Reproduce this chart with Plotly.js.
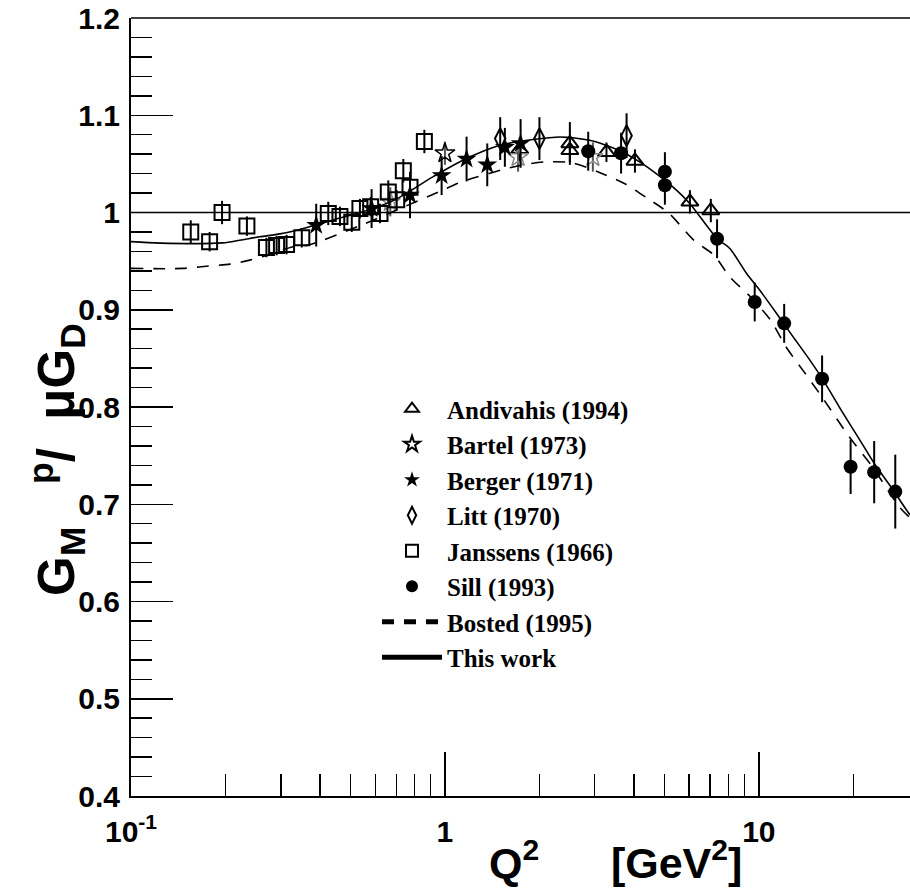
<!DOCTYPE html>
<html>
<head>
<meta charset="utf-8">
<script src="https://cdn.plot.ly/plotly-3.0.1.min.js"></script>
<style>html,body{margin:0;padding:0;background:#fff;}#chart{width:910px;height:889px;}</style>
</head>
<body>
<div id="chart"></div>
<script>
// ---- Data ----
const andivahisQ2 = [1.73, 2.5, 2.5, 3.27, 4.03, 6.03, 7.03];
const andivahisR  = [1.065, 1.071, 1.064, 1.062, 1.053, 1.011, 1.002];
const andivahisE  = [0.012, 0.022, 0.012, 0.010, 0.012, 0.012, 0.012];

const bartelQ2 = [1.0, 0.67, 1.71, 2.96];
const bartelR  = [1.061, 1.011, 1.057, 1.057];
const bartelE  = [0.012, 0.015, 0.015, 0.015];

const bergerQ2 = [0.389, 0.584, 0.774, 0.976, 1.172, 1.364, 1.552, 1.742];
const bergerR  = [0.987, 1.004, 1.018, 1.038, 1.055, 1.049, 1.067, 1.071];
const bergerE  = [0.022, 0.020, 0.024, 0.020, 0.023, 0.022, 0.020, 0.025];

const littQ2 = [1.50, 2.00, 3.79];
const littR  = [1.076, 1.076, 1.079];
const littE  = [0.022, 0.022, 0.023];

const janssensQ2 = [0.155, 0.178, 0.195, 0.234, 0.270, 0.291, 0.313, 0.350, 0.425, 0.463,
                    0.505, 0.536, 0.580, 0.621, 0.660, 0.702, 0.737, 0.774, 0.860];
const janssensR  = [0.980, 0.970, 1.000, 0.986, 0.964, 0.966, 0.967, 0.974, 0.999, 0.996,
                    0.990, 1.004, 1.006, 0.999, 1.021, 1.013, 1.043, 1.026, 1.073];
const janssensE  = [0.012, 0.010, 0.012, 0.010, 0.010, 0.010, 0.010, 0.010, 0.012, 0.010,
                    0.010, 0.010, 0.010, 0.010, 0.012, 0.010, 0.012, 0.012, 0.012];

const sillQ2 = [2.86, 3.64, 5.02, 5.02, 7.36, 9.70, 12.04, 15.9, 19.6, 23.3, 27.2];
const sillR  = [1.063, 1.061, 1.042, 1.028, 0.973, 0.908, 0.886, 0.829, 0.7385, 0.733, 0.713];
const sillE  = [0.020, 0.021, 0.020, 0.020, 0.020, 0.020, 0.020, 0.024, 0.028, 0.032, 0.038];

const bostedQ2 = [0.1, 0.146, 0.174, 0.207, 0.239, 0.284, 0.328, 0.366, 0.541, 0.724, 0.97, 1.127,
                  1.69, 2.08, 2.55, 3.08, 3.73, 4.43, 5.18, 6.2, 7.2, 8.08, 9.4, 10.9, 12.2,
                  13.8, 15.6, 19.4, 23.0, 28.0, 30.3];
const bostedR  = [0.9425, 0.9425, 0.9448, 0.9469, 0.951, 0.9579, 0.9647, 0.9664, 0.987, 1.0044, 1.0222, 1.0314,
                  1.0476, 1.052, 1.051, 1.0417, 1.0298, 1.0144, 0.999, 0.9716, 0.956, 0.9338, 0.9133, 0.8893, 0.8619,
                  0.8379, 0.814, 0.7694, 0.7385, 0.6974, 0.686];

const thisQ2 = [0.1, 0.124, 0.196, 0.222, 0.257, 0.298, 0.338, 0.466, 0.541, 0.69, 0.915, 1.17,
                1.49, 1.906, 2.33, 2.89, 3.27, 3.68, 4.17, 4.71, 5.32, 6.02, 7.36, 8.08, 9.14, 10.07,
                11.39, 12.86, 14.54, 16.03, 18.56, 20.98, 23.7, 26.8, 28.8, 30.3];
const thisR  = [0.970, 0.9685, 0.9688, 0.9715, 0.975, 0.978, 0.9818, 0.9945, 1.0003, 1.0127, 1.0366, 1.0555,
                1.069, 1.075, 1.0777, 1.0743, 1.069, 1.0623, 1.052, 1.040, 1.0263, 1.0093, 0.9733, 0.963, 0.9373, 0.920,
                0.8962, 0.8721, 0.8482, 0.8276, 0.7934, 0.766, 0.7385, 0.7146, 0.6992, 0.689];

const xTickVals = [0.1, 1, 10];
const xTickText = ['10<sup>-1</sup>', '1', '10'];
const xMinorVals = [0.2,0.3,0.4,0.5,0.6,0.7,0.8,0.9,2,3,4,5,6,7,8,9,20];
const yTickVals = [0.4,0.5,0.6,0.7,0.8,0.9,1.0,1.1,1.2];
const yTickText = ['0.4','0.5','0.6','0.7','0.8','0.9','1','1.1','1.2'];

// ---- Traces ----
const errStyle = (arr, c) => ({type:'data', array:arr, visible:true, width:0, thickness:2, color:c || '#000'});
const mk = (name, x, y, e, symbol, size, lw, color) => ({
  type:'scatter', mode:'markers', name:name, x:x, y:y,
  error_y: errStyle(e),
  marker:{symbol:symbol, size:size, color:color || '#000', line:{color:color || '#000', width:lw}}
});

const bartelColors = ['#000','#888','#888','#888'];
const traces = [
  mk('Andivahis (1994)', andivahisQ2, andivahisR, andivahisE, 'triangle-up-open', 15, 2),
  {type:'scatter', mode:'markers', name:'Bartel (1973)', x:bartelQ2, y:bartelR,
   error_y: errStyle(bartelE, '#555'),
   marker:{symbol:'star-open', size:15, color:bartelColors, line:{color:bartelColors, width:1.5}}},
  mk('Berger (1971)', bergerQ2, bergerR, bergerE, 'star', 15, 0),
  mk('Litt (1970)', littQ2, littR, littE, 'diamond-tall-open', 15, 2),
  mk('Janssens (1966)', janssensQ2, janssensR, janssensE, 'square-open', 15, 2),
  mk('Sill (1993)', sillQ2, sillR, sillE, 'circle', 14, 0),
  {type:'scatter', mode:'lines', name:'Bosted (1995)', x:bostedQ2, y:bostedR,
   line:{color:'#000', width:1.6, dash:'12px,10px', shape:'spline', smoothing:0.8}},
  {type:'scatter', mode:'lines', name:'This work', x:thisQ2, y:thisR,
   line:{color:'#000', width:1.6, shape:'spline', smoothing:0.8}}
];

const tickFont = {family:'Liberation Sans, Arial, sans-serif', size:30, color:'#000', weight:'bold'};

const layout = {
  width:910, height:889,
  margin:{l:131, r:0, t:18, b:93},
  paper_bgcolor:'#fff', plot_bgcolor:'#fff',
  showlegend:true,
  legend:{x:(377-131)/779, y:(796-386)/778, xanchor:'left', yanchor:'top',
          bgcolor:'rgba(0,0,0,0)', borderwidth:0, itemwidth:60, itemsizing:'constant',
          font:{family:'Liberation Serif, Times New Roman, serif', size:25, color:'#000', weight:'bold'},
          tracegroupgap:0},
  xaxis:{type:'log', range:[-1, Math.log10(30.3)], showgrid:false, zeroline:false,
         showline:true, linecolor:'#000', linewidth:2,
         ticks:'inside', ticklen:44, tickwidth:1.5, tickcolor:'#000',
         tickmode:'array', tickvals:xTickVals, ticktext:xTickText,
         tickfont:tickFont, ticklabelstandoff:8,
         minor:{tickmode:'array', tickvals:xMinorVals, ticks:'inside', ticklen:22, tickwidth:1.5, tickcolor:'#000', showgrid:false}},
  yaxis:{range:[0.4, 1.2], showgrid:false, zeroline:false,
         showline:true, linecolor:'#000', linewidth:2,
         ticks:'inside', ticklen:42, tickwidth:1.5, tickcolor:'#000',
         tickmode:'array', tickvals:yTickVals, ticktext:yTickText,
         tickfont:tickFont, ticklabelstandoff:3,
         minor:{dtick:0.02, ticks:'inside', ticklen:21, tickwidth:1.5, tickcolor:'#000', showgrid:false}},
  shapes:[
    {type:'line', xref:'paper', x0:0, x1:1, yref:'y', y0:1, y1:1, line:{color:'#000', width:1.5}},
    {type:'line', xref:'paper', x0:0, x1:1, yref:'paper', y0:1, y1:1, line:{color:'#000', width:1.5}}
  ],
  annotations:[
    {xref:'paper', yref:'paper', x:(57-131)/779, y:(796-460)/778, xanchor:'center', yanchor:'middle',
     textangle:-90, showarrow:false,
     text:'G<sub>M</sub>\u00a0\u00a0\u00a0<sup>p</sup>/\u00a0\u00a0μG<sub>D</sub>',
     font:{family:'Liberation Sans, Arial, sans-serif', size:51, color:'#000', weight:'bold'}},
    {xref:'paper', yref:'paper', x:(487-131)/779, y:(796-860)/778, xanchor:'left', yanchor:'middle',
     showarrow:false,
     text:'Q<sup>2</sup>\u00a0\u00a0\u00a0\u00a0\u00a0\u00a0[GeV<sup>2</sup>]',
     font:{family:'Liberation Sans, Arial, sans-serif', size:43, color:'#000', weight:'bold'}}
  ]
};

Plotly.newPlot('chart', traces, layout, {displayModeBar:false, staticPlot:true});
</script>
</body>
</html>
